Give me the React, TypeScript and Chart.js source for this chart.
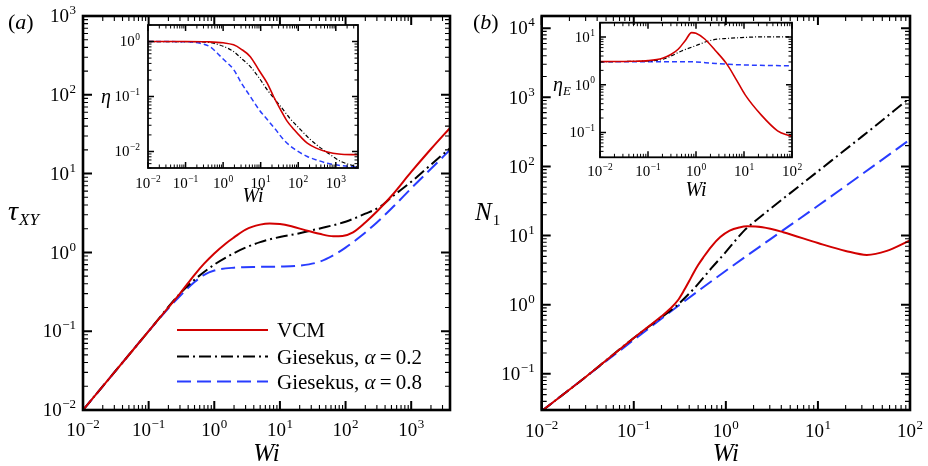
import React, { useEffect, useRef } from "react";
import { Chart, registerables } from "chart.js";
Chart.register(...registerables);

const SERIF = '"Liberation Serif", "Times New Roman", Times, serif';
const RED = "rgb(210,0,0)";
const BLACK = "#000000";
const BLUE = "rgb(40,60,255)";

// ---------------- Panel (a): shear stress tau_XY vs Wi ----------------
const aWi_VCM = [0.01, 0.03, 0.1, 0.2, 0.3, 0.5, 0.7, 1, 1.5, 2, 3, 5, 7, 10, 15, 25, 40, 65, 90, 130, 200, 300, 500, 1000, 2000, 3900];
const aTau_VCM = [0.01, 0.03, 0.1, 0.2, 0.3, 0.52, 0.72, 0.97, 1.3, 1.55, 1.95, 2.25, 2.33, 2.3, 2.15, 1.9, 1.72, 1.6, 1.62, 1.8, 2.4, 3.3, 5.2, 10.5, 20.5, 38];
const aWi_G02 = [0.01, 0.03, 0.1, 0.3, 0.5, 1, 2, 3, 5, 10, 20, 30, 50, 100, 200, 336, 500, 1084, 2000, 3900];
const aTau_G02 = [0.01, 0.03, 0.1, 0.3, 0.45, 0.7, 0.98, 1.15, 1.35, 1.57, 1.75, 1.9, 2.1, 2.45, 3.1, 3.8, 5.0, 8.3, 13, 21];
const aWi_G08 = [0.01, 0.03, 0.1, 0.2, 0.3, 0.5, 0.7, 1, 2, 5, 10, 20, 40, 70, 100, 170, 300, 500, 1000, 2000, 3900];
const aTau_G08 = [0.01, 0.03, 0.1, 0.195, 0.28, 0.42, 0.52, 0.59, 0.64, 0.655, 0.66, 0.68, 0.76, 0.95, 1.15, 1.6, 2.4, 3.6, 6.5, 11.5, 20];

// inset (a): shear viscosity eta vs Wi
const aiWi_VCM = [0.01, 0.1, 0.37, 1, 1.9, 3, 5.3, 9, 14.9, 22, 34, 50, 77, 120, 174, 300, 600, 1200, 3900];
const aiEta_VCM = [1, 1, 0.99, 0.95, 0.87, 0.73, 0.53, 0.3, 0.175, 0.1, 0.057, 0.036, 0.025, 0.018, 0.0142, 0.0115, 0.0098, 0.009, 0.0087];
const aiWi_G02 = [0.01, 0.1, 0.3, 0.56, 1, 1.9, 3, 5.3, 9, 15, 34, 60, 115, 200, 400, 800, 1350, 3900];
const aiEta_G02 = [1, 1, 0.98, 0.93, 0.82, 0.66, 0.5, 0.35, 0.22, 0.132, 0.066, 0.04, 0.025, 0.017, 0.0115, 0.0083, 0.0066, 0.0052];
const aiWi_G08 = [0.01, 0.1, 0.245, 0.45, 0.69, 1, 1.9, 3, 5.3, 9, 15, 25, 42, 80, 174, 350, 600, 1500, 3900];
const aiEta_G08 = [1, 0.99, 0.93, 0.8, 0.62, 0.48, 0.31, 0.18, 0.1, 0.058, 0.038, 0.025, 0.016, 0.011, 0.0081, 0.0068, 0.0061, 0.0055, 0.0052];

// ---------------- Panel (b): first normal stress difference N1 vs Wi ----------------
const bWi_VCM = [0.01, 0.03, 0.1, 0.2, 0.25, 0.3, 0.35, 0.4, 0.45, 0.5, 0.57, 0.7, 0.87, 1.1, 1.4, 1.7, 2.5, 4.2, 10, 20, 34, 56, 100];
const bN1_VCM = [0.029, 0.09, 0.33, 0.68, 0.88, 1.15, 1.6, 2.2, 2.95, 3.75, 4.85, 7.0, 9.5, 11.8, 13.1, 13.6, 13.2, 11.2, 7.8, 6.0, 5.25, 6.0, 8.5];
const bWi_G02 = [0.01, 0.03, 0.1, 0.2, 0.3, 0.4, 0.5, 0.7, 1, 1.3, 1.6, 2, 3, 10, 30, 100];
const bN1_G02 = [0.029, 0.09, 0.33, 0.66, 1.0, 1.45, 2.0, 3.4, 5.8, 8.8, 12, 15.5, 24, 85, 270, 980];
const bWi_G08 = [0.01, 0.03, 0.1, 0.3, 1, 3, 10, 30, 100];
const bN1_G08 = [0.029, 0.09, 0.31, 0.95, 3.1, 8.75, 27, 77, 245];

// inset (b): extensional viscosity eta_E vs Wi
const biWi_VCM = [0.01, 0.05, 0.1, 0.2, 0.3, 0.43, 0.6, 0.81, 1.0, 1.54, 2.5, 4.4, 7, 10.5, 23, 50, 80, 100];
const biEta_VCM = [3.05, 3.1, 3.2, 3.6, 4.3, 5.6, 8.5, 12.4, 12, 9, 5.3, 2.7, 1.25, 0.62, 0.23, 0.108, 0.088, 0.083];
const biWi_G02 = [0.01, 0.1, 0.2, 0.3, 0.5, 0.95, 2.1, 4.7, 10, 23, 100];
const biEta_G02 = [3.05, 3.15, 3.4, 4.0, 5.1, 6.5, 8.6, 9.4, 9.8, 10.1, 10.1];
const biWi_G08 = [0.01, 0.1, 0.3, 1, 2, 4.7, 20, 100];
const biEta_G08 = [3.05, 3.05, 3.05, 3.0, 2.85, 2.68, 2.55, 2.5];

// tick label exponents (labels are 10^e)
const aXTickExps = [-2, -1, 0, 1, 2, 3];
const aYTickExps = [-2, -1, 0, 1, 2, 3];
const aiXTickExps = [-2, -1, 0, 1, 2, 3];
const aiYTickExps = [-2, -1, 0];
const bXTickExps = [-2, -1, 0, 1, 2];
const bYTickExps = [-1, 0, 1, 2, 3, 4];
const biXTickExps = [-2, -1, 0, 1, 2];
const biYTickExps = [-1, 0, 1];

const seriesNames = ["VCM", "Giesekus, α = 0.2", "Giesekus, α = 0.8"];

type Piece = { t: string; size: number; italic?: boolean; dy?: number; dx?: number };

function fontOf(size: number, italic?: boolean) {
  return `${italic ? "italic " : ""}${size}px ${SERIF}`;
}

function drawRich(ctx: CanvasRenderingContext2D, pieces: Piece[], x: number, y: number, align: "left" | "center" = "left") {
  ctx.save();
  ctx.textAlign = "left";
  ctx.textBaseline = "alphabetic";
  ctx.fillStyle = "#000";
  const widths = pieces.map((p) => {
    ctx.font = fontOf(p.size, p.italic);
    return ctx.measureText(p.t).width + (p.dx || 0);
  });
  const total = widths.reduce((a, b) => a + b, 0);
  let cx = align === "center" ? x - total / 2 : x;
  pieces.forEach((p, i) => {
    ctx.font = fontOf(p.size, p.italic);
    ctx.fillText(p.t, cx + (p.dx || 0), y + (p.dy || 0));
    cx += widths[i];
  });
  ctx.restore();
}

function drawPow(ctx: CanvasRenderingContext2D, e: number, x: number, baseline: number, align: "center" | "right", font: number, sup: number) {
  const base = "10";
  const ex = e < 0 ? "\u2212" + String(-e) : String(e);
  ctx.font = fontOf(font);
  const w1 = ctx.measureText(base).width;
  ctx.font = fontOf(sup);
  const w2 = ctx.measureText(ex).width;
  const gap = 0.5;
  const w = w1 + gap + w2;
  const x0 = align === "center" ? x - w / 2 : x - w;
  ctx.textAlign = "left";
  ctx.textBaseline = "alphabetic";
  ctx.font = fontOf(font);
  ctx.fillText(base, x0, baseline);
  ctx.font = fontOf(sup);
  ctx.fillText(ex, x0 + w1 + gap, baseline - font * 0.42);
}

type AxCfg = {
  xExps: number[];
  yExps: number[];
  font: number;
  sup: number;
  xBase: number;
  yPad: number;
  frameW: number;
  majorLen: number;
  minorLen: number;
  majorW: number;
  minorW: number;
  extra?: (ctx: CanvasRenderingContext2D, ca: any, chart: any) => void;
};

function logTicks(min: number, max: number) {
  const out: { v: number; major: boolean }[] = [];
  for (let e = Math.floor(Math.log10(min)) - 1; e <= Math.ceil(Math.log10(max)); e++) {
    for (let k = 1; k <= 9; k++) {
      const v = k * Math.pow(10, e);
      if (v >= min * 0.9999 && v <= max * 1.0001) out.push({ v, major: k === 1 });
    }
  }
  return out;
}

function makeDeco(cfg: AxCfg) {
  return {
    id: "deco",
    afterDraw(chart: any) {
      const ctx: CanvasRenderingContext2D = chart.ctx;
      const ca = chart.chartArea;
      const xs = chart.scales.x;
      const ys = chart.scales.y;
      ctx.save();
      ctx.strokeStyle = "#000";
      for (const t of logTicks(xs.min, xs.max)) {
        const p = xs.getPixelForValue(t.v);
        const len = t.major ? cfg.majorLen : cfg.minorLen;
        ctx.lineWidth = t.major ? cfg.majorW : cfg.minorW;
        ctx.beginPath();
        ctx.moveTo(p, ca.bottom);
        ctx.lineTo(p, ca.bottom - len);
        ctx.moveTo(p, ca.top);
        ctx.lineTo(p, ca.top + len);
        ctx.stroke();
      }
      for (const t of logTicks(ys.min, ys.max)) {
        const p = ys.getPixelForValue(t.v);
        const len = t.major ? cfg.majorLen : cfg.minorLen;
        ctx.lineWidth = t.major ? cfg.majorW : cfg.minorW;
        ctx.beginPath();
        ctx.moveTo(ca.left, p);
        ctx.lineTo(ca.left + len, p);
        ctx.moveTo(ca.right, p);
        ctx.lineTo(ca.right - len, p);
        ctx.stroke();
      }
      ctx.lineWidth = cfg.frameW;
      ctx.strokeRect(ca.left, ca.top, ca.right - ca.left, ca.bottom - ca.top);
      ctx.fillStyle = "#000";
      for (const e of cfg.xExps) {
        const p = xs.getPixelForValue(Math.pow(10, e));
        drawPow(ctx, e, p, ca.bottom + cfg.xBase, "center", cfg.font, cfg.sup);
      }
      for (const e of cfg.yExps) {
        const p = ys.getPixelForValue(Math.pow(10, e));
        drawPow(ctx, e, ca.left - cfg.yPad, p + cfg.font * 0.33, "right", cfg.font, cfg.sup);
      }
      ctx.restore();
      if (cfg.extra) cfg.extra(ctx, ca, chart);
    },
  };
}

const pts = (xs: number[], ys: number[]) => xs.map((x, i) => ({ x, y: ys[i] }));

function ds(label: string, xs: number[], ys: number[], color: string, width: number, dash: number[]) {
  return {
    label,
    data: pts(xs, ys),
    borderColor: color,
    backgroundColor: color,
    borderWidth: width,
    borderDash: dash,
    pointRadius: 0,
    fill: false,
    cubicInterpolationMode: "monotone" as const,
  };
}

function baseOptions(padding: any, xr: [number, number], yr: [number, number]) {
  return {
    animation: false as const,
    responsive: true,
    maintainAspectRatio: false,
    events: [] as any[],
    layout: { padding },
    scales: {
      x: { type: "logarithmic" as const, min: xr[0], max: xr[1], display: false },
      y: { type: "logarithmic" as const, min: yr[0], max: yr[1], display: false },
    },
    plugins: { legend: { display: false }, tooltip: { enabled: false } },
  };
}

const DASH_MAIN_G02 = [12, 4, 2, 4];
const DASH_MAIN_G08 = [14, 6];
const DASH_IN_G02 = [4, 2, 1, 2];
const DASH_IN_G08 = [5, 3];

function mainA() {
  const datasets = [
    ds(seriesNames[0], aWi_VCM, aTau_VCM, RED, 2, []),
    ds(seriesNames[1], aWi_G02, aTau_G02, BLACK, 2, DASH_MAIN_G02),
    ds(seriesNames[2], aWi_G08, aTau_G08, BLUE, 2, DASH_MAIN_G08),
  ];
  const extra = (ctx: CanvasRenderingContext2D, ca: any) => {
    drawRich(ctx, [{ t: "(", size: 22 }, { t: "a", size: 22, italic: true }, { t: ")", size: 22 }], 8, 29);
    drawRich(ctx, [{ t: "τ", size: 28, italic: true }, { t: "XY", size: 17, italic: true, dy: 5, dx: 1 }], 8, 220);
    drawRich(ctx, [{ t: "Wi", size: 25, italic: true }], (ca.left + ca.right) / 2, 461, "center");
    // legend
    const rows = [330, 356.5, 381.5];
    datasets.forEach((d, i) => {
      ctx.save();
      ctx.strokeStyle = d.borderColor;
      ctx.lineWidth = 2;
      ctx.setLineDash(d.borderDash);
      ctx.beginPath();
      ctx.moveTo(177, rows[i]);
      ctx.lineTo(268, rows[i]);
      ctx.stroke();
      ctx.restore();
      const name = d.label;
      if (name.includes("α")) {
        const [pre, post] = name.split("α");
        drawRich(ctx, [{ t: pre, size: 21 }, { t: "α", size: 21, italic: true }, { t: post.replace(/ /g, "\u2009"), size: 21 }], 277, rows[i] + 7);
      } else {
        drawRich(ctx, [{ t: name, size: 21 }], 277, rows[i] + 7);
      }
    });
  };
  return {
    type: "line" as const,
    data: { datasets },
    options: baseOptions({ left: 83, right: 14, top: 16, bottom: 56 }, [0.01, 3900], [0.01, 1000]),
    plugins: [
      makeDeco({ xExps: aXTickExps, yExps: aYTickExps, font: 19, sup: 13, xBase: 26, yPad: 7, frameW: 2.6, majorLen: 9, minorLen: 5, majorW: 2, minorW: 1.1, extra }),
    ],
  };
}

function insetA() {
  const datasets = [
    ds(seriesNames[0], aiWi_VCM, aiEta_VCM, RED, 1.6, []),
    ds(seriesNames[1], aiWi_G02, aiEta_G02, BLACK, 1.2, DASH_IN_G02),
    ds(seriesNames[2], aiWi_G08, aiEta_G08, BLUE, 1.5, DASH_IN_G08),
  ];
  const extra = (ctx: CanvasRenderingContext2D, ca: any) => {
    drawRich(ctx, [{ t: "η", size: 20, italic: true }], 11, 93);
    drawRich(ctx, [{ t: "Wi", size: 20, italic: true }], (ca.left + ca.right) / 2, ca.bottom + 34, "center");
  };
  return {
    type: "line" as const,
    data: { datasets },
    options: baseOptions({ left: 58, right: 12, top: 15, bottom: 42 }, [0.01, 3900], [0.005, 2]),
    plugins: [
      makeDeco({ xExps: aiXTickExps, yExps: aiYTickExps, font: 15, sup: 9.5, xBase: 20, yPad: 8, frameW: 1.8, majorLen: 6, minorLen: 3.5, majorW: 1.5, minorW: 1, extra }),
    ],
  };
}

function mainB() {
  const datasets = [
    ds(seriesNames[0], bWi_VCM, bN1_VCM, RED, 2, []),
    ds(seriesNames[1], bWi_G02, bN1_G02, BLACK, 2, DASH_MAIN_G02),
    ds(seriesNames[2], bWi_G08, bN1_G08, BLUE, 2, DASH_MAIN_G08),
  ];
  const extra = (ctx: CanvasRenderingContext2D, ca: any) => {
    drawRich(ctx, [{ t: "(", size: 22 }, { t: "b", size: 22, italic: true }, { t: ")", size: 22 }], 9, 29);
    drawRich(ctx, [{ t: "N", size: 25, italic: true }, { t: "1", size: 15, dy: 5, dx: 1 }], 11, 220);
    drawRich(ctx, [{ t: "Wi", size: 25, italic: true }], (ca.left + ca.right) / 2, 461, "center");
  };
  return {
    type: "line" as const,
    data: { datasets },
    options: baseOptions({ left: 77.7, right: 18, top: 16, bottom: 56 }, [0.01, 100], [0.03, 15000]),
    plugins: [
      makeDeco({ xExps: bXTickExps, yExps: bYTickExps, font: 19, sup: 13, xBase: 27, yPad: 7, frameW: 2.6, majorLen: 9, minorLen: 5, majorW: 2, minorW: 1.1, extra }),
    ],
  };
}

function insetB() {
  const datasets = [
    ds(seriesNames[0], biWi_VCM, biEta_VCM, RED, 1.6, []),
    ds(seriesNames[1], biWi_G02, biEta_G02, BLACK, 1.2, DASH_IN_G02),
    ds(seriesNames[2], biWi_G08, biEta_G08, BLUE, 1.5, DASH_IN_G08),
  ];
  const extra = (ctx: CanvasRenderingContext2D, ca: any) => {
    drawRich(ctx, [{ t: "η", size: 20, italic: true }, { t: "E", size: 13, italic: true, dy: 4 }], 8, 81);
    drawRich(ctx, [{ t: "Wi", size: 20, italic: true }], (ca.left + ca.right) / 2, ca.bottom + 39, "center");
  };
  return {
    type: "line" as const,
    data: { datasets },
    options: baseOptions({ left: 55, right: 13, top: 12.7, bottom: 52.7 }, [0.01, 100], [0.03, 20]),
    plugins: [
      makeDeco({ xExps: biXTickExps, yExps: biYTickExps, font: 15, sup: 9.5, xBase: 19, yPad: 5, frameW: 1.8, majorLen: 6, minorLen: 3.5, majorW: 1.5, minorW: 1, extra }),
    ],
  };
}

function ChartBox({ box, make }: { box: [number, number, number, number]; make: () => any }) {
  const ref = useRef<HTMLCanvasElement>(null);
  useEffect(() => {
    const c = new Chart(ref.current as HTMLCanvasElement, make());
    return () => c.destroy();
  }, []);
  return (
    <div style={{ position: "absolute", left: box[0], top: box[1], width: box[2], height: box[3] }}>
      <canvas ref={ref} />
    </div>
  );
}

export default function App() {
  return (
    <div style={{ position: "absolute", left: 0, top: 0, width: 928, height: 466, background: "#fff", overflow: "hidden" }}>
      <ChartBox box={[0, 0, 464, 466]} make={mainA} />
      <ChartBox box={[464, 0, 464, 466]} make={mainB} />
      <ChartBox box={[90, 10, 280, 200]} make={insetA} />
      <ChartBox box={[545, 10, 260, 200]} make={insetB} />
    </div>
  );
}
